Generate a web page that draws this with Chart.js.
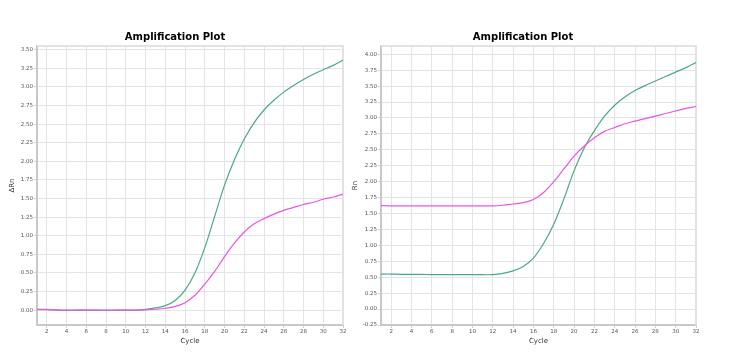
<!DOCTYPE html>
<html>
<head>
<meta charset="utf-8">
<script src="https://cdn.jsdelivr.net/npm/chart.js@4.4.0/dist/chart.umd.min.js"></script>
<style>
  html, body { margin: 0; padding: 0; background: #fff; }
  body { width: 734px; height: 359px; position: relative; overflow: hidden; }
  .box { position: absolute; top: 0; height: 359px; }
  #b1 { left: 0; width: 350px; }
  #b2 { left: 350px; width: 384px; }
</style>
</head>
<body>
<div class="box" id="b1"><canvas id="c1"></canvas></div>
<div class="box" id="b2"><canvas id="c2"></canvas></div>
<script>
const cycles = [1,2,3,4,5,6,7,8,9,10,11,12,13,14,15,16,17,18,19,20,21,22,23,24,25,26,27,28,29,30,31,32];
const xTickValues = [2,4,6,8,10,12,14,16,18,20,22,24,26,28,30,32];

// Left chart: delta Rn
const leftGreen = [0.01,0.005,0.0,-0.004,0.0,0.0,0.0,-0.004,0.0,0.0,0.0,0.01,0.03,0.06,0.13,0.27,0.5,0.84,1.26,1.68,2.02,2.3,2.52,2.69,2.82,2.93,3.02,3.1,3.17,3.23,3.29,3.36];
const leftMagenta = [0.012,0.01,0.004,0.0,0.0,0.0,0.0,0.0,0.0,0.0,0.0,0.004,0.012,0.025,0.05,0.1,0.2,0.35,0.52,0.72,0.9,1.05,1.16,1.23,1.29,1.34,1.38,1.42,1.45,1.49,1.52,1.56];
const leftYTicks = [0,0.25,0.5,0.75,1,1.25,1.5,1.75,2,2.25,2.5,2.75,3,3.25,3.5];

// Right chart: Rn
const rightGreen = [0.55,0.55,0.545,0.545,0.545,0.54,0.54,0.54,0.54,0.54,0.54,0.54,0.56,0.6,0.67,0.8,1.03,1.33,1.73,2.17,2.53,2.8,3.03,3.2,3.33,3.43,3.51,3.58,3.65,3.72,3.79,3.87];
const rightMagenta = [1.625,1.62,1.62,1.62,1.62,1.62,1.62,1.62,1.62,1.62,1.62,1.62,1.63,1.65,1.67,1.72,1.83,2.0,2.2,2.4,2.56,2.69,2.79,2.85,2.91,2.95,2.99,3.03,3.07,3.11,3.15,3.18];
const rightYTicks = [-0.25,0,0.25,0.5,0.75,1,1.25,1.5,1.75,2,2.25,2.5,2.75,3,3.25,3.5,3.75,4];

const GREEN = 'rgb(72,170,128)';
const MAGENTA = 'rgb(232,86,232)';
const FONT = 'DejaVu Sans';

const framePlugin = {
  id: 'frame',
  beforeDatasetsDraw(chart) {
    const {ctx, chartArea: a} = chart;
    ctx.save();
    ctx.strokeStyle = '#e2e2e2';
    ctx.lineWidth = 2;
    ctx.beginPath();
    ctx.moveTo(a.left, a.top);
    ctx.lineTo(a.right, a.top);
    ctx.lineTo(a.right, a.bottom);
    ctx.stroke();
    ctx.restore();
  }
};

function makeChart(id, green, magenta, yTicks, yMin, yMax, yTitle, padL, padR, yWidth) {
  const toPts = arr => cycles.map((c, i) => ({x: c, y: arr[i]}));
  return new Chart(document.getElementById(id), {
    type: 'line',
    data: {
      datasets: [
        {data: toPts(magenta), borderColor: MAGENTA, borderWidth: 1.2, pointRadius: 0, tension: 0.35},
        {data: toPts(green), borderColor: GREEN, borderWidth: 1.2, pointRadius: 0, tension: 0.35}
      ]
    },
    options: {
      responsive: true,
      maintainAspectRatio: false,
      animation: false,
      events: [],
      layout: {padding: {left: padL, right: padR, top: 31.5, bottom: 14}},
      plugins: {
        legend: {display: false},
        tooltip: {enabled: false},
        title: {
          display: true,
          text: 'Amplification Plot',
          color: '#000',
          font: {family: FONT, size: 10, weight: 'bold', lineHeight: 1.2},
          padding: {top: 0, bottom: 2.5}
        }
      },
      scales: {
        x: {
          type: 'linear', min: 1, max: 32,
          afterFit(s) { s.height = 20; },
          afterBuildTicks(s) { s.ticks = xTickValues.map(v => ({value: v})); },
          ticks: {color: '#555', font: {family: FONT, size: 5.5}, padding: 0, maxRotation: 0, autoSkip: false},
          grid: {color: '#e4e4e4', borderDash: [1, 2], lineWidth: 1, drawTicks: true, tickLength: 3, tickColor: '#cfcfcf', tickBorderDash: []},
          border: {display: true, color: '#c8c8c8', width: 2},
          title: {display: true, text: 'Cycle', color: '#333', font: {family: FONT, size: 7, lineHeight: 1.2}, padding: 0}
        },
        y: {
          type: 'linear', min: yMin, max: yMax,
          afterFit(s) { s.width = yWidth; },
          afterBuildTicks(s) { s.ticks = yTicks.map(v => ({value: v})); },
          ticks: {color: '#555', font: {family: FONT, size: 5.5}, padding: 1, autoSkip: false, callback: v => v.toFixed(2)},
          grid: {color: '#e4e4e4', borderDash: [1, 2], lineWidth: 1, drawTicks: true, tickLength: 3, tickColor: '#cfcfcf', tickBorderDash: []},
          border: {display: true, color: '#c8c8c8', width: 2},
          title: {display: true, text: yTitle, color: '#333', font: {family: FONT, size: 7, lineHeight: 1.2}, padding: {top: 1, bottom: 0}}
        }
      }
    },
    plugins: [framePlugin]
  });
}

makeChart('c1', leftGreen, leftMagenta, leftYTicks, -0.2, 3.55, 'ΔRn', 7, 7, 30);
makeChart('c2', rightGreen, rightMagenta, rightYTicks, -0.25, 4.13, 'Rn', 0, 38, 31);
</script>
</body>
</html>
